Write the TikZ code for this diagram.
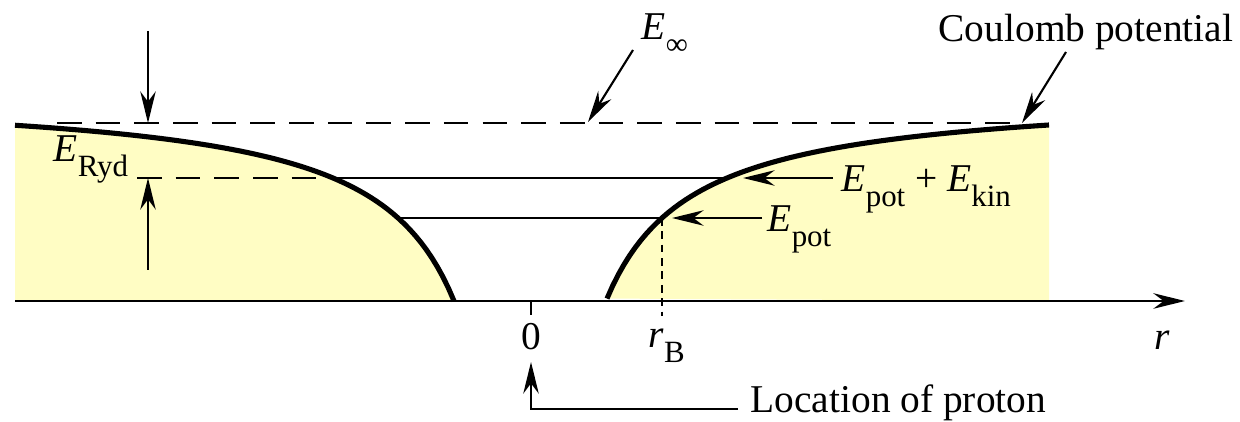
\documentclass[tikz,border=0pt]{standalone}
\usepackage{fontspec}
\setmainfont{Liberation Serif}
\usetikzlibrary{arrows.meta}

\definecolor{wellfill}{RGB}{255,253,196}
\newcommand{\Elab}[2]{\textit{#1}\raisebox{-0.36em}{\fontsize{8.8}{10}\selectfont #2}}

\tikzset{
  arr/.style={-{Stealth[length=9pt,width=4.4pt]}, line width=0.6pt},
  guide/.style={dash pattern=on 7pt off 4pt, line width=0.55pt},
  wall/.style={line width=1.45pt},
  level/.style={line width=0.8pt},
  lbl/.style={inner sep=0pt, font=\fontsize{11.2}{13}\selectfont}
}

\begin{document}
\begin{tikzpicture}[x=0.01cm,y=-0.01cm]
    \useasboundingbox (0,0) rectangle (1240,422);
    % yellow regions under the potential
    \fill[wellfill] (15,301) -- plot[domain=515:76,samples=80,variable=\d] ({530-\d},{91+210*(85.6/(\d+9.6))}) -- cycle;
    \fill[wellfill] plot[domain=77:519,samples=80,variable=\d] ({530+\d},{91+210*(85.6/(\d+9.6))}) -- (1049,301) -- cycle;
    % levels
    \draw[guide] (57,123) -- (1010,123);
    \draw[guide] (137,178) -- (333,178);
    \draw[level] (333,178) -- (727,178);
    \draw[level] (398,218) -- (662,218);
    \draw[dash pattern=on 2.2pt off 1.6pt, line width=0.55pt] (662,218) -- (662,316);
    % Coulomb potential
    \draw[wall] plot[domain=515:76,samples=80,variable=\d] ({530-\d},{91+210*(85.6/(\d+9.6))});
    \draw[wall] plot[domain=77:519,samples=80,variable=\d] ({530+\d},{91+210*(85.6/(\d+9.6))});
    % r axis
    \draw[-{Stealth[length=9pt,width=4.4pt]}, line width=0.85pt] (15,301) -- (1185,301);
    \draw[line width=0.6pt] (531,301) -- (531,315);

    \node[lbl,anchor=base] (zero) at (531,350) {0};
    \node[lbl,anchor=base west] (rB) at (648,348) {\Elab{r}{B}};
    \node[lbl,anchor=base] (r) at (1162,350) {\textit{r}};
    \node[lbl,anchor=base west] (coul) at (938,42) {Coulomb potential};
    \node[lbl,anchor=base west] (Einf) at (641,40) {\Elab{E}{∞}};
    \node[lbl,anchor=base west] (ERyd) at (53,162) {\Elab{E}{Ryd}};
    \node[lbl,anchor=base west] (Etot) at (841,192) {\Elab{E}{pot} + \Elab{E}{kin}};
    \node[lbl,anchor=base west] (Epot) at (767,232) {\Elab{E}{pot}};
    \node[lbl,anchor=base west] (loc) at (750,413) {Location of proton};

    \coordinate (einfTail) at (633,50);
    \coordinate (einfTip) at (588,122);
    \coordinate (coulTail) at (1066,52);
    \coordinate (coulTip) at (1022,123);
    \coordinate (totTail) at (833,178);
    \coordinate (totTip) at (743,178);
    \coordinate (potTail) at (762,218);
    \coordinate (potTip) at (672,218);
    \coordinate (rydTop) at (148,31);
    \coordinate (rydTopTip) at (148,123);
    \coordinate (rydBot) at (148,270);
    \coordinate (rydBotTip) at (148,178);
    \coordinate (locTail) at (738,409);
    \coordinate (locTip) at (531,362);

    \draw[arr] (einfTail) -- (einfTip);
    \draw[arr] (coulTail) -- (coulTip);
    \draw[arr] (totTail) -- (totTip);
    \draw[arr] (potTail) -- (potTip);
    \draw[arr] (rydTop) -- (rydTopTip);
    \draw[arr] (rydBot) -- (rydBotTip);
    \draw[arr] (locTail) -| (locTip);
\end{tikzpicture}
\end{document}
